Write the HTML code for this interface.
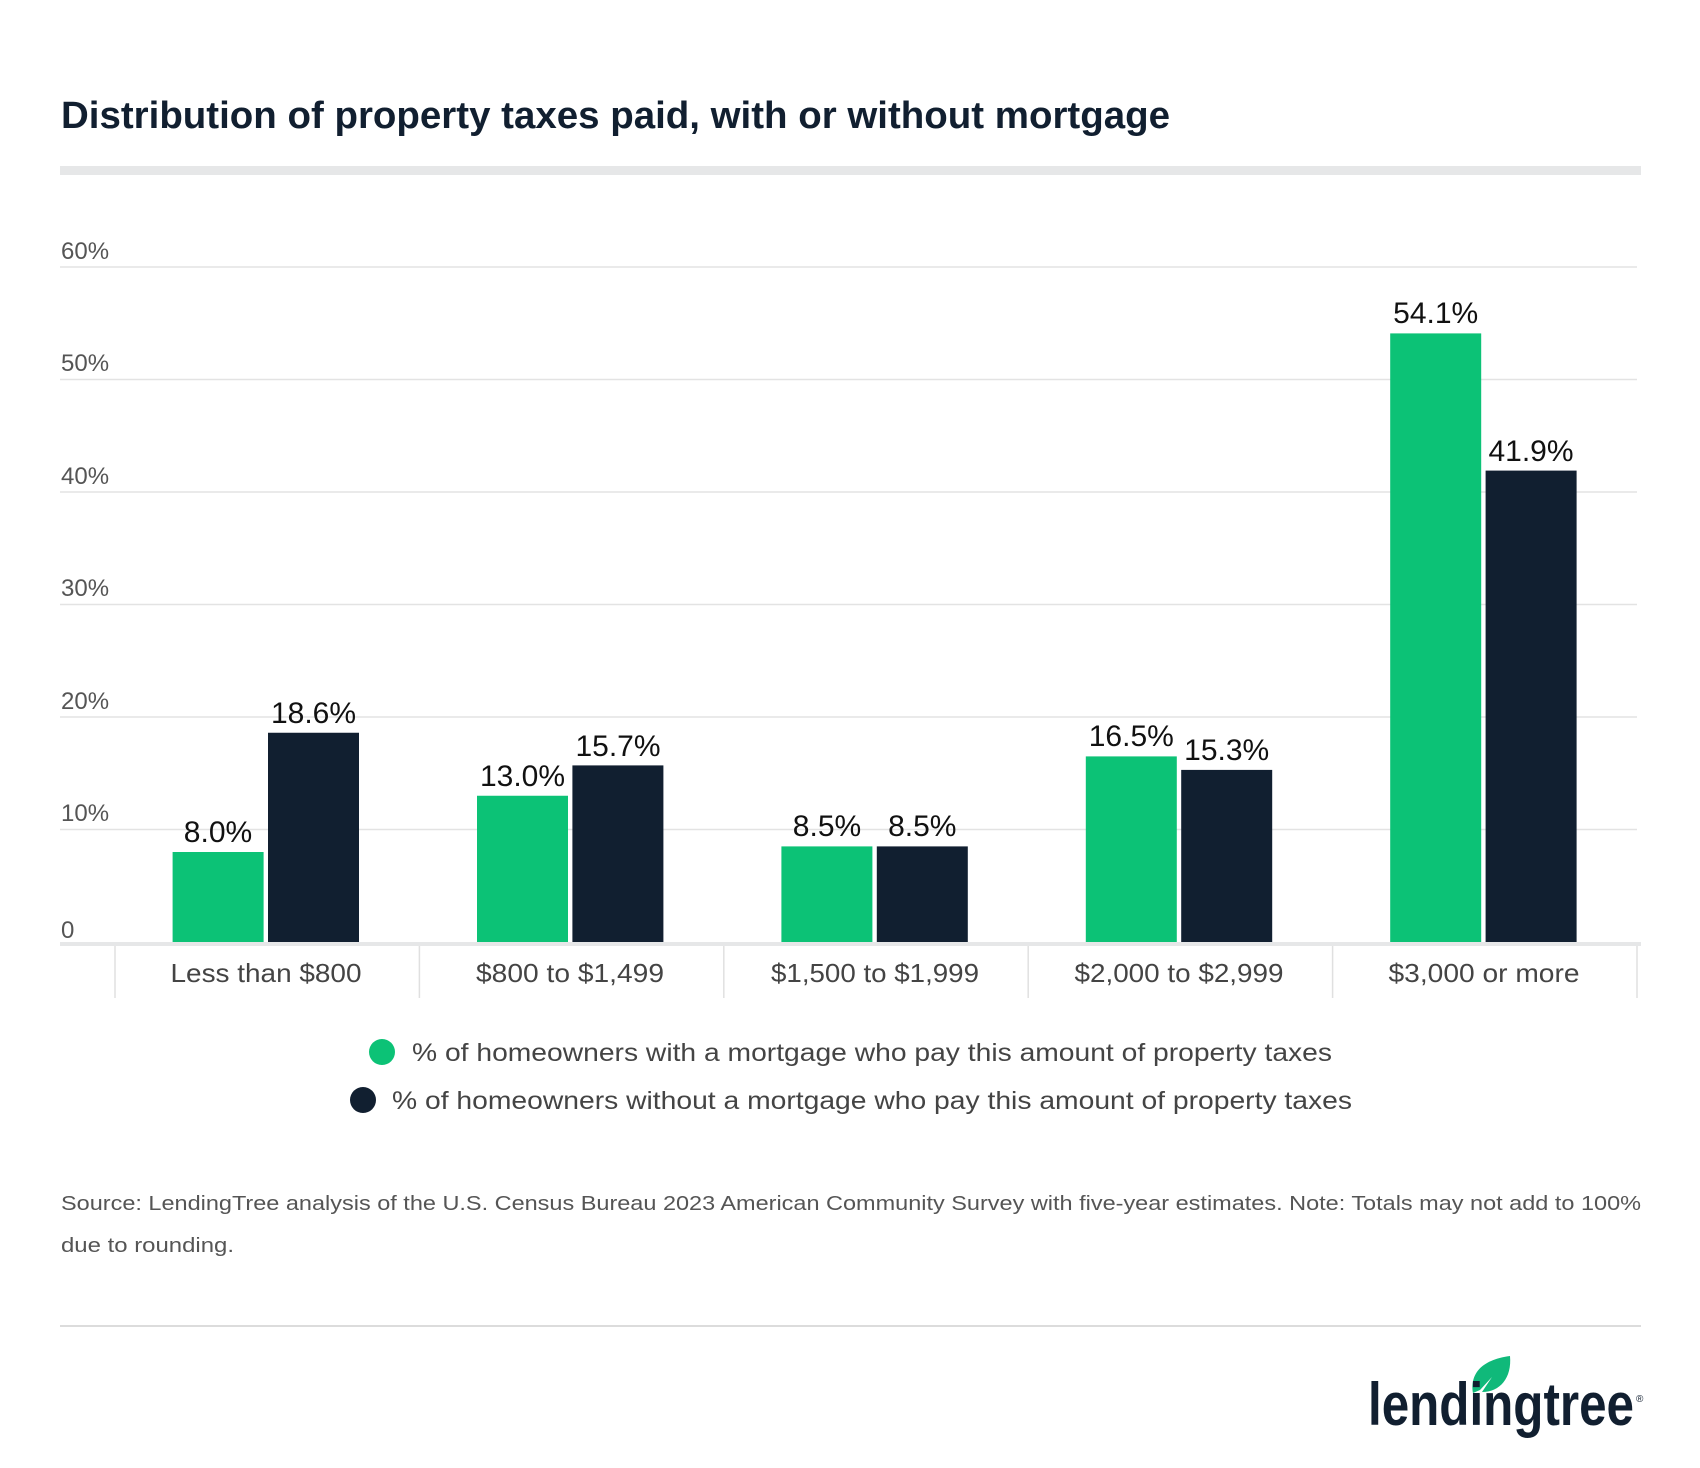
<!DOCTYPE html>
<html><head><meta charset="utf-8"><style>
body{margin:0;background:#fff;}
svg{display:block;font-family:"Liberation Sans",Arial,sans-serif;}
</style></head><body>
<svg width="1700" height="1468" viewBox="0 0 1700 1468" xmlns="http://www.w3.org/2000/svg">
<rect width="1700" height="1468" fill="#fff"/>
<text x="61" y="128" font-size="38" font-weight="bold" fill="#111f30" textLength="1109" lengthAdjust="spacingAndGlyphs">Distribution of property taxes paid, with or without mortgage</text>
<rect x="60" y="166" width="1581" height="9" fill="#e6e7e8"/>
<g stroke="#e3e3e3" stroke-width="1.5">
<line x1="60" x2="1637" y1="267" y2="267"/>
<line x1="60" x2="1637" y1="379.5" y2="379.5"/>
<line x1="60" x2="1637" y1="492" y2="492"/>
<line x1="60" x2="1637" y1="604.5" y2="604.5"/>
<line x1="60" x2="1637" y1="717" y2="717"/>
<line x1="60" x2="1637" y1="829.5" y2="829.5"/>
</g>
<g font-size="24" fill="#555">
<text x="61" y="259">60%</text>
<text x="61" y="371">50%</text>
<text x="61" y="484">40%</text>
<text x="61" y="596">30%</text>
<text x="61" y="709">20%</text>
<text x="61" y="821">10%</text>
<text x="61" y="938">0</text>
</g>
<g stroke="#e0e0e0" stroke-width="1.5">
<line x1="115" x2="115" y1="944" y2="998"/>
<line x1="419.4" x2="419.4" y1="944" y2="998"/>
<line x1="723.8" x2="723.8" y1="944" y2="998"/>
<line x1="1028.2" x2="1028.2" y1="944" y2="998"/>
<line x1="1332.6" x2="1332.6" y1="944" y2="998"/>
<line x1="1637" x2="1637" y1="944" y2="998"/>
</g>
<rect x="60" y="942" width="1581" height="4" fill="#e6e7e8"/>
<g>
<rect x="172.6" y="852" width="91" height="90" fill="#0cc276"/>
<rect x="268" y="732.75" width="91" height="209.25" fill="#111f30"/>
<rect x="477" y="795.75" width="91" height="146.25" fill="#0cc276"/>
<rect x="572.4" y="765.4" width="91" height="176.6" fill="#111f30"/>
<rect x="781.4" y="846.4" width="91" height="95.6" fill="#0cc276"/>
<rect x="876.8" y="846.4" width="91" height="95.6" fill="#111f30"/>
<rect x="1085.8" y="756.4" width="91" height="185.6" fill="#0cc276"/>
<rect x="1181.2" y="769.9" width="91" height="172.1" fill="#111f30"/>
<rect x="1390.2" y="333.4" width="91" height="608.6" fill="#0cc276"/>
<rect x="1485.6" y="470.6" width="91" height="471.4" fill="#111f30"/>
</g>
<g font-size="30" fill="#111" text-anchor="middle">
<text x="218" y="842">8.0%</text>
<text x="313.5" y="723">18.6%</text>
<text x="522.5" y="786">13.0%</text>
<text x="618" y="756">15.7%</text>
<text x="827" y="836">8.5%</text>
<text x="922.3" y="836">8.5%</text>
<text x="1131.3" y="746">16.5%</text>
<text x="1226.7" y="760">15.3%</text>
<text x="1435.7" y="323">54.1%</text>
<text x="1531" y="461">41.9%</text>
</g>
<g font-size="26" fill="#444" text-anchor="middle">
<text x="266" y="982" textLength="191" lengthAdjust="spacingAndGlyphs">Less than $800</text>
<text x="570" y="982" textLength="188" lengthAdjust="spacingAndGlyphs">$800 to $1,499</text>
<text x="875" y="982" textLength="208" lengthAdjust="spacingAndGlyphs">$1,500 to $1,999</text>
<text x="1179" y="982" textLength="209" lengthAdjust="spacingAndGlyphs">$2,000 to $2,999</text>
<text x="1484" y="982" textLength="191" lengthAdjust="spacingAndGlyphs">$3,000 or more</text>
</g>
<circle cx="382" cy="1052" r="13" fill="#0cc276"/>
<text x="412" y="1061" font-size="25" fill="#444" textLength="920" lengthAdjust="spacingAndGlyphs">% of homeowners with a mortgage who pay this amount of property taxes</text>
<circle cx="363" cy="1100" r="13" fill="#111f30"/>
<text x="392" y="1109" font-size="25" fill="#444" textLength="960" lengthAdjust="spacingAndGlyphs">% of homeowners without a mortgage who pay this amount of property taxes</text>
<text x="61" y="1210" font-size="20.5" fill="#555" textLength="1580" lengthAdjust="spacingAndGlyphs">Source: LendingTree analysis of the U.S. Census Bureau 2023 American Community Survey with five-year estimates. Note: Totals may not add to 100%</text>
<text x="61" y="1252" font-size="20.5" fill="#555" textLength="173" lengthAdjust="spacingAndGlyphs">due to rounding.</text>
<rect x="60" y="1325" width="1581" height="2" fill="#dcdcdc"/>
<path d="M1473 1393 C1470 1375 1480 1360 1510 1356 C1512 1378 1500 1392 1482 1392 L1492 1377 L1480 1390 Z" fill="#10b97a"/>
<text x="1368" y="1425" font-size="60" font-weight="bold" fill="#111f30" textLength="266" lengthAdjust="spacingAndGlyphs">lendingtree</text>
<text x="1636" y="1402" font-size="10" fill="#111f30">®</text>
</svg>
</body></html>
